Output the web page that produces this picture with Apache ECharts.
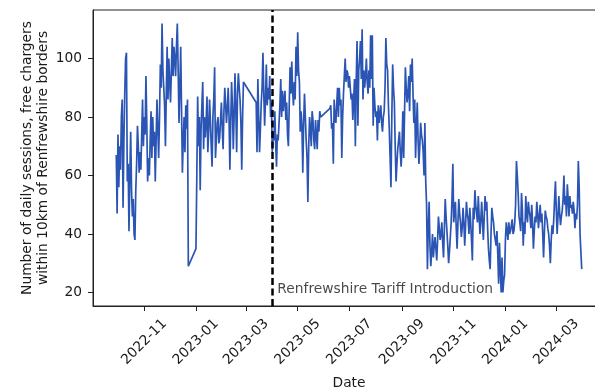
<!DOCTYPE html>
<html><head><meta charset="utf-8">
<script src="https://cdn.jsdelivr.net/npm/echarts@6/dist/echarts.min.js"></script>
<style>html,body{margin:0;padding:0;background:#fff}#c{width:595px;height:392px}</style>
</head><body><div id="c"></div>
<script>
// ---- data (daily sessions; days without records are simply absent) ----
const seg1Start = '2022-09-29';
const seg1 = [
  67, 47, 74, 56, 70, 62, 80, 86, 49, 72,
  88, 100, 102, 58, 64, 41, 60, 75, 55, 46,
  52, 40, 38, 55, 64, 77, 70, 61, 68, 62,
  74, 86, 70, 80, 74, 94, 78, 58, 66, 60,
  72, 82, 66, 80, 70, 75, 58, 72, 86, 76,
  66, 80, 98, 90, 112, 96, 90, 84, 70, 88,
  104, 86, 100, 92, 85, 96, 107, 94, 104, 100,
  94, 104, 112, 96, 78, 90, 104, 82, 61, 72,
  80, 68, 84, 76, 86, 29
];
const seg2Start = '2023-01-01';
const seg2 = [
  35, 60, 87, 70, 80, 55, 76, 84, 92, 69,
  80, 73, 78, 87, 68, 75, 86, 79, 70, 63,
  80, 86, 97, 66, 72, 78, 80, 71, 73, 79,
  85, 76, 69, 82, 90, 84, 78, 83, 90, 80,
  62, 78, 92, 84, 69, 80, 95, 83, 68, 88,
  95, 90, 86, 78, 62, 80, 92
];
const seg3Start = '2023-03-13';
const seg3 = [
  85, 68, 93, 80, 68, 76, 85, 90, 102, 88,
  77, 86, 98, 84, 90, 86, 94, 80, 85, 68,
  75, 72, 82, 71, 63, 74, 72, 78, 84, 93,
  80, 89, 82, 86, 89, 79, 85, 74, 70, 84,
  97, 88, 99, 89, 84, 92, 86, 104, 94, 109,
  96, 92, 75, 82, 77, 61, 78, 88, 80, 72,
  66, 51, 70, 80, 76, 70, 82, 79, 72, 69,
  79, 74, 69, 79, 75, 82, 80
];
const seg4Start = '2023-06-08';
const seg4 = [
  83, 84, 76, 78, 64, 86, 80, 78, 84, 90,
  80, 90, 84, 86, 66, 80, 88, 94, 100, 92,
  96, 95, 90, 94, 90, 86, 88, 79, 86, 93,
  70, 92, 106, 77, 96, 100, 106, 93, 110, 86,
  96, 90, 94, 100, 92, 88, 96, 90, 108, 93,
  108, 77, 90, 84, 80, 82, 72, 84, 78, 81,
  84, 78, 75, 80, 82, 90, 107, 98, 96, 84,
  76, 66, 56, 80, 98, 90, 85, 70, 58, 64,
  69, 72, 75, 68, 63, 70, 82, 66, 81, 97,
  90, 85, 88, 94, 82, 98, 92, 100, 88, 78,
  86, 66, 76, 85, 72, 64, 70, 78, 74, 72,
  68, 60, 78, 58, 50, 28, 42, 51, 36, 29,
  34, 40, 32, 36, 39, 35, 31, 38, 46, 42,
  38, 40, 44, 37, 32, 42, 52, 46, 41, 36,
  30, 34, 39, 44, 52, 64, 44, 48, 51, 42,
  35, 44, 52, 47, 44, 39, 42, 49, 44, 36,
  43, 51, 47, 45, 40, 49, 44, 38, 31, 49,
  45, 55, 50, 47, 44, 53, 46, 40, 45, 51,
  44, 38, 46, 53, 48, 51, 42, 35, 31, 28,
  40, 49, 46, 44, 40, 38, 36, 41, 33, 23,
  37, 28, 20, 32, 20, 24, 26, 38, 44, 41,
  38, 44, 40, 41, 43, 45, 40, 41, 44, 50,
  65, 60, 54, 46, 44, 41, 54, 48, 36, 44,
  40, 53, 47, 44, 51, 48, 46, 42, 50, 44,
  35, 41, 46, 44, 51, 47, 42, 46, 50, 44,
  47, 40, 32, 41, 48, 46, 45, 42, 40, 36,
  30, 38, 43, 40, 45, 52, 58, 48, 40, 46,
  53, 47, 43, 46, 48, 52, 60, 50, 53, 46,
  57, 52, 46, 53, 49, 50, 47, 51, 48, 42,
  47, 45, 50, 65, 56, 40, 34, 28
];
const tariffDate = '2023-04-01';
const annotationDate = '2023-04-07';
const annotationValue = 20;
const annotationText = 'Renfrewshire Tariff Introduction';
const xTickLabels = ['2022-11', '2023-01', '2023-03', '2023-05', '2023-07', '2023-09', '2023-11', '2024-01', '2024-03'];
const yTicks = [20, 40, 60, 80, 100];
const yTitle = 'Number of daily sessions, free chargers\nwithin 10km of Renfrewshire borders';
const xTitle = 'Date';

// ---- build ----
function parseDate(s) {
  const p = s.split('-').map(Number);
  return new Date(p[0], p[1] - 1, p[2] || 1).getTime();
}
function expand(start, vals) {
  const t0 = parseDate(start);
  return vals.map(function (v, i) {
    const dt = new Date(t0); dt.setDate(dt.getDate() + i);
    return [dt.getTime(), v];
  });
}
const lineData = [].concat(expand(seg1Start, seg1), expand(seg2Start, seg2), expand(seg3Start, seg3), expand(seg4Start, seg4));
const allVals = lineData.map(d => d[1]);
const tFirst = lineData[0][0], tLast = lineData[lineData.length - 1][0];
const xPad = 0.05 * (tLast - tFirst);
const vMin = Math.min.apply(null, allVals), vMax = Math.max.apply(null, allVals);
const yPad = 0.05 * (vMax - vMin);
const xTickVals = xTickLabels.map(parseDate);

const FS = 13.8;
const TXT = '#1a1a1a';
const AX = '#222';

const chart = echarts.init(document.getElementById('c'), null, { renderer: 'canvas' });
chart.setOption({
  animation: false,
  backgroundColor: '#fff',
  textStyle: { fontFamily: 'DejaVu Sans' },
  grid: {
    left: 93, top: 10, right: -10, bottom: 86,
    show: true, borderColor: AX, borderWidth: 1,
    outerBoundsMode: 'none', containLabel: false
  },
  xAxis: {
    type: 'time',
    min: tFirst - xPad, max: tLast + xPad,
    name: xTitle, nameLocation: 'middle', nameGap: 70,
    nameTextStyle: { fontSize: FS, color: TXT, fontFamily: 'DejaVu Sans' },
    axisLine: { show: true, lineStyle: { color: AX, width: 1 } },
    axisTick: { show: true, customValues: xTickVals, length: 5, lineStyle: { color: AX } },
    axisLabel: {
      customValues: xTickVals, rotate: 45, align: 'center', verticalAlign: 'middle', margin: 36,
      fontSize: FS, color: TXT, fontFamily: 'DejaVu Sans',
      formatter: '{yyyy}-{MM}', showMinLabel: true, showMaxLabel: true, hideOverlap: false
    },
    splitLine: { show: false }
  },
  yAxis: {
    type: 'value',
    min: vMin - yPad, max: vMax + yPad,
    name: yTitle, nameLocation: 'middle', nameRotate: 90, nameGap: 42, nameMoveOverlap: false,
    nameTextStyle: { fontSize: FS, color: TXT, lineHeight: 16, align: 'center', fontFamily: 'DejaVu Sans' },
    axisLine: { show: true, lineStyle: { color: AX, width: 1 } },
    axisTick: { show: true, customValues: yTicks, length: 5, lineStyle: { color: AX } },
    axisLabel: { customValues: yTicks, margin: 11, fontSize: FS, color: TXT, fontFamily: 'DejaVu Sans' },
    splitLine: { show: false }
  },
  series: [
    {
      type: 'line',
      data: lineData,
      showSymbol: false,
      lineStyle: { color: '#2b55b4', width: 1.7 },
      itemStyle: { color: '#2b55b4' },
      z: 2,
      markLine: {
        silent: true, symbol: ['none', 'none'],
        label: { show: false },
        lineStyle: { color: '#000', width: 2.5, type: [7, 3.5] },
        data: [{ xAxis: parseDate(tariffDate) }]
      }
    },
    {
      type: 'scatter',
      data: [[parseDate(annotationDate), annotationValue]],
      symbolSize: 0,
      z: 5,
      label: {
        show: true, position: [0, 0], align: 'left', verticalAlign: 'bottom', offset: [0, 4],
        formatter: annotationText, fontSize: FS, color: TXT, fontFamily: 'DejaVu Sans'
      }
    }
  ]
});
</script>
</body></html>
